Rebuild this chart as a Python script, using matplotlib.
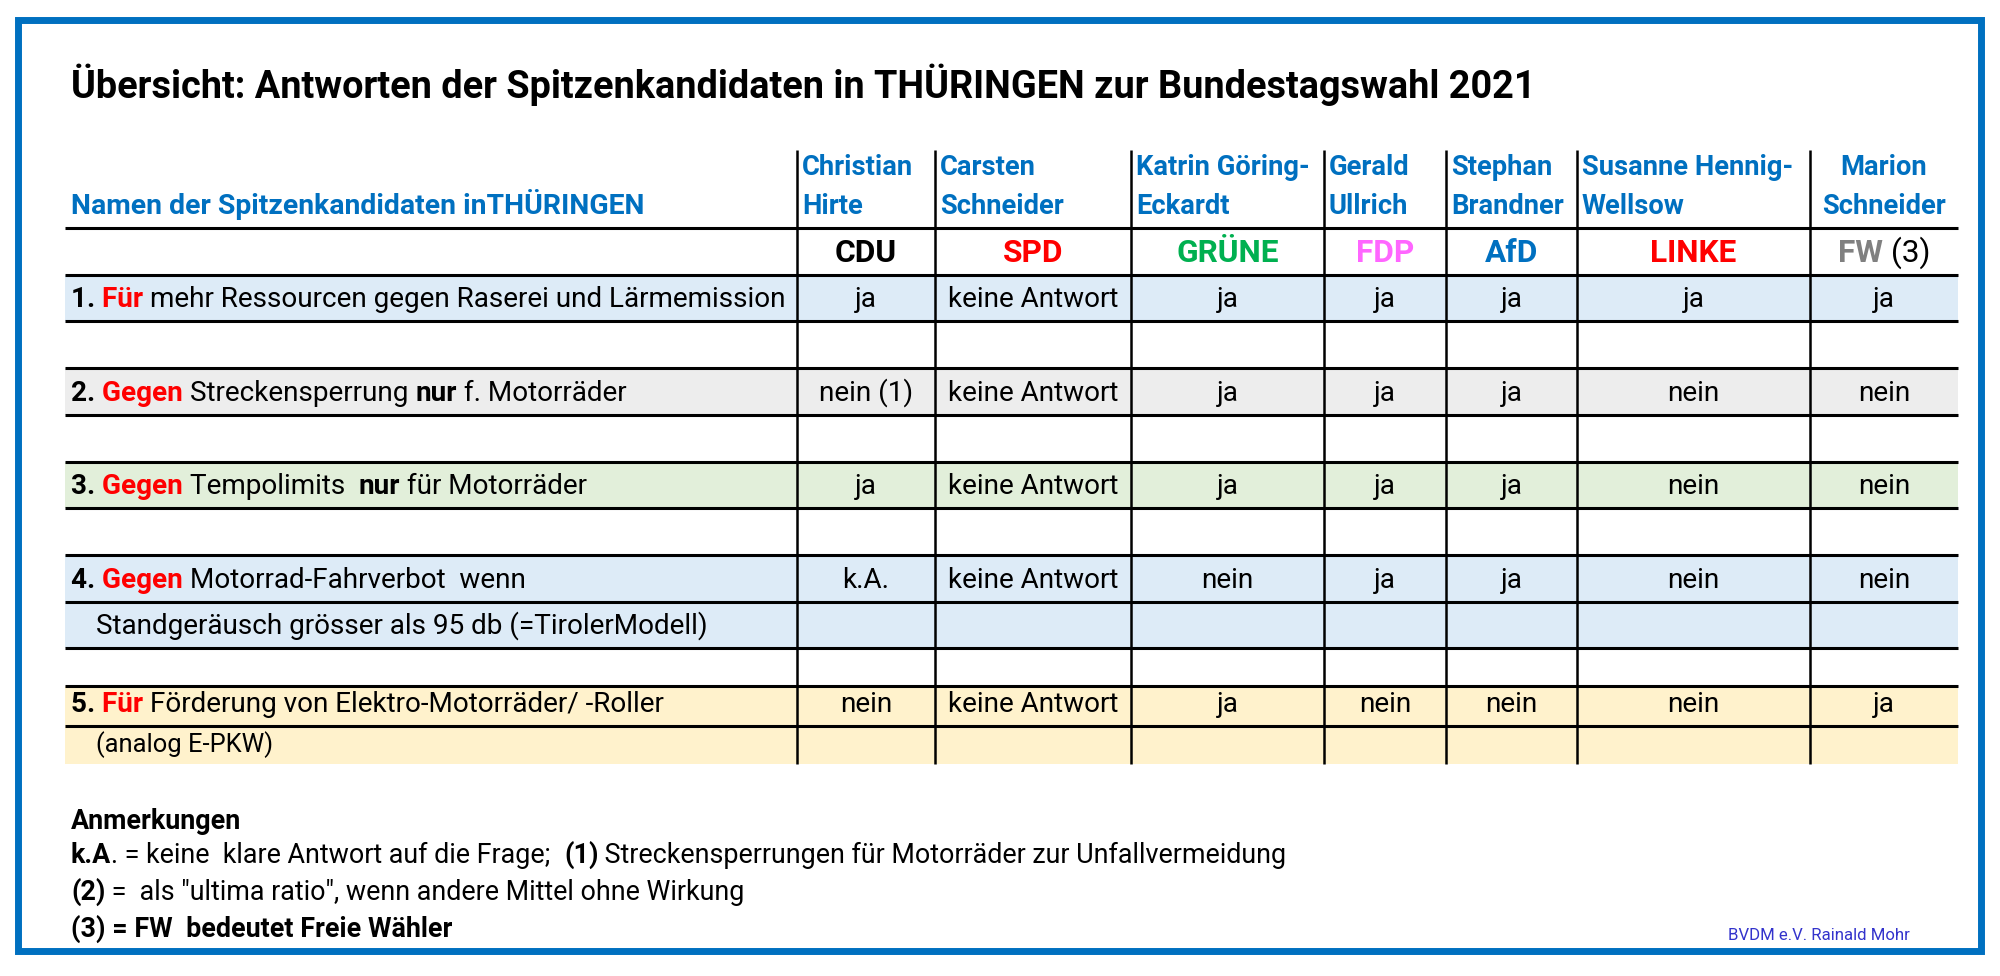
import matplotlib
matplotlib.use('Agg')
import matplotlib.pyplot as plt
from matplotlib.patches import Rectangle

# ---- data ----
title = "Übersicht: Antworten der Spitzenkandidaten in THÜRINGEN zur Bundestagswahl 2021"
header_label = "Namen der Spitzenkandidaten inTHÜRINGEN"
names_line1 = ["Christian", "Carsten", "Katrin Göring-", "Gerald", "Stephan", "Susanne Hennig-", "Marion"]
names_line2 = ["Hirte", "Schneider", "Eckardt", "Ullrich", "Brandner", "Wellsow", "Schneider"]
parties = ["CDU", "SPD", "GRÜNE", "FDP", "AfD", "LINKE", "FW"]

q_numbers = ["1.", "2.", "3.", "4.", "5."]
q_keywords = ["Für", "Gegen", "Gegen", "Gegen", "Für"]
q_texts = [
    [("mehr Ressourcen gegen Raserei und Lärmemission", "normal")],
    [("Streckensperrung ", "normal"), ("nur", "bold"), (" f. Motorräder", "normal")],
    [("Tempolimits  ", "normal"), ("nur", "bold"), (" für Motorräder", "normal")],
    [("Motorrad-Fahrverbot  wenn", "normal")],
    [("Förderung von Elektro-Motorräder/ -Roller", "normal")],
]
q_subtexts = [None, None, None, "Standgeräusch grösser als 95 db (=TirolerModell)", "(analog E-PKW)"]

answers = [
    ["ja", "keine Antwort", "ja", "ja", "ja", "ja", "ja"],
    ["nein (1)", "keine Antwort", "ja", "ja", "ja", "nein", "nein"],
    ["ja", "keine Antwort", "ja", "ja", "ja", "nein", "nein"],
    ["k.A.", "keine Antwort", "nein", "ja", "ja", "nein", "nein"],
    ["nein", "keine Antwort", "ja", "nein", "nein", "nein", "ja"],
]

notes_heading = "Anmerkungen"
notes = [
    [("k.A", "bold"), (". = keine  klare Antwort auf die Frage;  ", "normal"), ("(1)", "bold"),
     (" Streckensperrungen für Motorräder zur Unfallvermeidung", "normal")],
    [("(2)", "bold"), (" =  als \"ultima ratio\", wenn andere Mittel ohne Wirkung", "normal")],
    [("(3) = FW  bedeutet Freie Wähler", "bold")],
]
credit = "BVDM e.V. Rainald Mohr"

# ---- styles / layout ----
FONT = ['Roboto', 'DejaVu Sans']
BLUE = '#0070C0'
RED = '#FF0000'
party_colors = ['#000000', '#FF0000', '#00B050', '#FF66FF', '#0070C0', '#FF0000', '#808080']
row_fills = ['#DDEBF7', '#EDEDED', '#E2EFDA', '#DDEBF7', '#FFF2CC']

col_edges = [65, 797, 935, 1131, 1324, 1446, 1577, 1810, 1958]
band_edges = [228, 275, 321, 368, 415, 462, 508, 555, 602, 648, 686, 726, 764]
q_bands = [1, 3, 5, 7, 10]

fig = plt.figure(figsize=(20, 9.76), dpi=100)
ax = fig.add_axes([0, 0, 1, 1])
ax.set_xlim(0, 2000)
ax.set_ylim(976, 0)
ax.axis('off')
renderer = fig.canvas.get_renderer()


def width(s, size, weight):
    t = ax.text(0, 0, s, fontsize=size, fontweight=weight, family=FONT)
    w = t.get_window_extent(renderer).width
    t.remove()
    return w


def fit(s, target, weight='normal'):
    return 20 * target / width(s, 20, weight)


def advance(s, size, weight):
    return width(s + 'l', size, weight) - width('l', size, weight)


def draw_runs(x, y, runs, size, ha='left'):
    # runs: (text, weight, color)
    if ha == 'center':
        x -= sum(advance(t, size, w) for t, w, c in runs) / 2
    for t, w, c in runs:
        ax.text(x, y, t, fontsize=size, fontweight=w, color=c, family=FONT, va='baseline')
        x += advance(t, size, w)


title_size = fit(title, 1461, 'bold')
head_size = fit(header_label, 572, 'bold')
name_size = fit("Christian", 111, 'bold')
party_size = fit("CDU", 62, 'bold')
body_size = fit("Standgeräusch grösser als 95 db (=TirolerModell)", 611)
small_size = fit("(analog E-PKW)", 177)
note_size = fit("als \"ultima ratio\", wenn andere Mittel ohne Wirkung", 605)
credit_size = fit(credit, 182)

# frame
ax.add_patch(Rectangle((18, 19.5), 1963, 931.5, fill=False, lw=5.0, edgecolor=BLUE, zorder=5))

ax.text(71, 98, title, fontsize=title_size, fontweight='bold', family=FONT, va='baseline')

# row fills
for qi, b in enumerate(q_bands):
    top = band_edges[b]
    bottom = band_edges[b + 2] if q_subtexts[qi] else band_edges[b + 1]
    ax.add_patch(Rectangle((col_edges[0], top), col_edges[-1] - col_edges[0], bottom - top,
                           facecolor=row_fills[qi], edgecolor='none', zorder=0))

# grid lines
for y in band_edges[:-1]:
    ax.plot([col_edges[0], col_edges[-1]], [y, y], color='black', lw=2.2, solid_capstyle='butt', zorder=2)
for x in col_edges[1:-1]:
    ax.plot([x, x], [150, band_edges[-1]], color='black', lw=1.8, solid_capstyle='butt', zorder=2)

# header
ax.text(71, 214, header_label, fontsize=head_size, fontweight='bold', color=BLUE, family=FONT, va='baseline')
for i in range(len(parties)):
    left, right = col_edges[i + 1], col_edges[i + 2]
    cx = (left + right) / 2
    if i == len(parties) - 1:
        for y, s in [(175, names_line1[i]), (214, names_line2[i])]:
            ax.text(cx, y, s, fontsize=name_size, fontweight='bold', color=BLUE, family=FONT,
                    va='baseline', ha='center')
        draw_runs(cx, 262, [(parties[i], 'bold', party_colors[i]), (" (3)", 'normal', 'black')],
                  party_size, ha='center')
    else:
        for y, s in [(175, names_line1[i]), (214, names_line2[i])]:
            ax.text(left + 5, y, s, fontsize=name_size, fontweight='bold', color=BLUE, family=FONT,
                    va='baseline')
        ax.text(cx, 262, parties[i], fontsize=party_size, fontweight='bold', color=party_colors[i],
                family=FONT, va='baseline', ha='center')

# question rows
for qi, b in enumerate(q_bands):
    y = band_edges[b + 1] - 14
    runs = [(q_numbers[qi] + " ", 'bold', 'black'), (q_keywords[qi] + " ", 'bold', RED)]
    runs += [(t, w, 'black') for t, w in q_texts[qi]]
    draw_runs(71, y, runs, body_size)
    for ci, val in enumerate(answers[qi]):
        cx = (col_edges[ci + 1] + col_edges[ci + 2]) / 2
        ax.text(cx, y, val, fontsize=body_size, family=FONT, va='baseline', ha='center')
    if q_subtexts[qi]:
        if qi == 4:
            ax.text(96, band_edges[b + 2] - 12, q_subtexts[qi], fontsize=small_size, family=FONT, va='baseline')
        else:
            ax.text(96, band_edges[b + 2] - 14, q_subtexts[qi], fontsize=body_size, family=FONT, va='baseline')

# notes
ax.text(71, 829, notes_heading, fontsize=note_size, fontweight='bold', family=FONT, va='baseline')
for y, line in zip([863, 900, 937], notes):
    draw_runs(71, y, [(t, w, 'black') for t, w in line], note_size)

ax.text(1728, 940, credit, fontsize=credit_size, color='#3333CC', family=FONT, va='baseline')

fig.savefig('out.png', dpi=100)
